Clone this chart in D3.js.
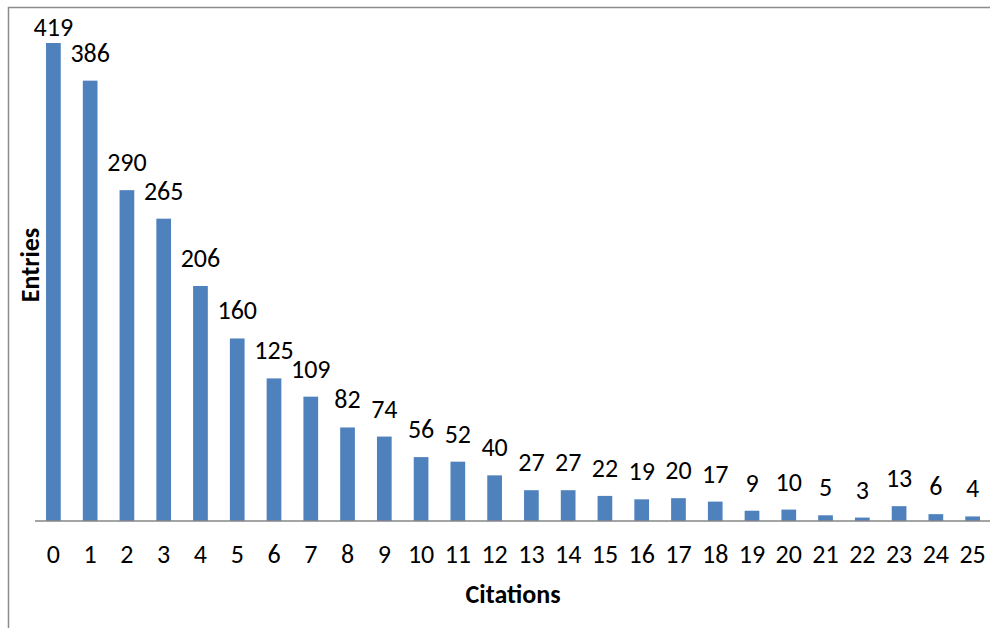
<!DOCTYPE html>
<html><head><meta charset="utf-8">
<script src="https://cdn.jsdelivr.net/npm/d3@7"></script>
<style>body{margin:0;background:#fff}svg{display:block}</style>
</head><body>
<svg id="c" width="990" height="628"></svg>
<script>
const categories = ["0","1","2","3","4","5","6","7","8","9","10","11","12","13","14","15","16","17","18","19","20","21","22","23","24","25"];
const entries = [419,386,290,265,206,160,125,109,82,74,56,52,40,27,27,22,19,20,17,9,10,5,3,13,6,4];
const xTitle = "Citations";
const yTitle = "Entries";

const svg = d3.select("#c");
const font = "Carlito, Lato, 'Open Sans', sans-serif";
const fs = 26;

// outer frame
svg.append("path").attr("d","M8.5,628 V7.5 H990").attr("fill","none").attr("stroke","#8c8c8c").attr("stroke-width",1.5);

const x = d3.scaleBand().domain(categories).range([35,991]).paddingInner(0.6).paddingOuter(0.3);
const y = d3.scaleLinear().domain([0,419]).range([521,43]);

svg.selectAll("rect.bar").data(entries).join("rect")
  .attr("class","bar")
  .attr("x",(d,i)=>x(categories[i]))
  .attr("width",x.bandwidth())
  .attr("y",d=>y(d))
  .attr("height",d=>y(0)-y(d))
  .attr("fill","#4F81BD");

// baseline axis
const ax = svg.append("g").attr("transform","translate(0,521)").call(d3.axisBottom(x).tickSize(0));
ax.select(".domain").attr("stroke","#868686").attr("stroke-width",1.5).attr("d","M35,0H991");
ax.selectAll("text").attr("y",42).attr("dy",0).attr("font-family",font).attr("font-size",fs).attr("fill","#000");

svg.selectAll("text.lbl").data(entries).join("text")
  .attr("class","lbl")
  .attr("x",(d,i)=>x(categories[i])+x.bandwidth()/2)
  .attr("y",d=>Math.max(36, y(d)-19))
  .attr("text-anchor","middle")
  .attr("font-family",font).attr("font-size",fs).attr("fill","#000")
  .text(d=>d);

svg.append("text").attr("x",513).attr("y",603).attr("text-anchor","middle")
  .attr("font-family",font).attr("font-size",fs).attr("font-weight","bold").text(xTitle);
svg.append("text").attr("transform","translate(39,265) rotate(-90)").attr("text-anchor","middle")
  .attr("font-family",font).attr("font-size",fs).attr("font-weight","bold").text(yTitle);
</script>
</body></html>
